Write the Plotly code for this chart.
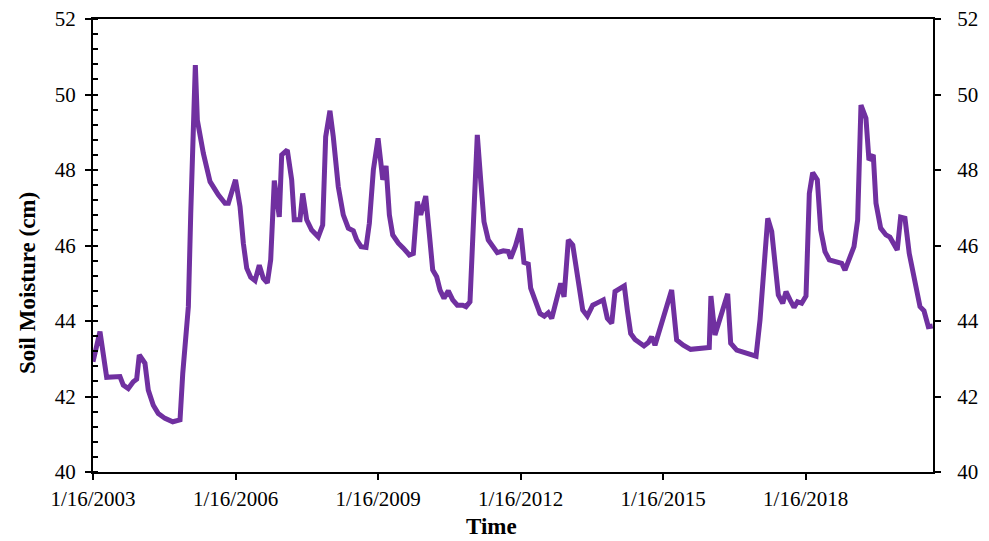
import datetime as dt
import plotly.graph_objects as go

# Monthly soil-moisture record, time as decimal years
decimal_year = [
    2003.041, 2003.188, 2003.329, 2003.609, 2003.679, 2003.784, 2003.889, 2003.961,
    2004.016, 2004.135, 2004.205, 2004.310, 2004.415, 2004.556, 2004.719, 2004.872,
    2004.929, 2005.047, 2005.097, 2005.194, 2005.236, 2005.363, 2005.504, 2005.678,
    2005.819, 2005.889, 2006.040, 2006.135, 2006.205, 2006.276, 2006.360, 2006.451,
    2006.541, 2006.625, 2006.710, 2006.781, 2006.857, 2006.962, 2007.013, 2007.131,
    2007.223, 2007.278, 2007.398, 2007.455, 2007.539, 2007.644, 2007.783, 2007.876,
    2007.939, 2008.029, 2008.099, 2008.204, 2008.309, 2008.415, 2008.520, 2008.591,
    2008.682, 2008.787, 2008.857, 2008.941, 2009.040, 2009.139, 2009.208, 2009.278,
    2009.349, 2009.467, 2009.572, 2009.698, 2009.783, 2009.867, 2009.938, 2010.044,
    2010.119, 2010.191, 2010.275, 2010.345, 2010.429, 2010.519, 2010.612, 2010.709,
    2010.822, 2010.892, 2010.976, 2011.130, 2011.201, 2011.271, 2011.361, 2011.454,
    2011.551, 2011.677, 2011.782, 2011.833, 2011.934, 2012.039, 2012.113, 2012.203,
    2012.254, 2012.344, 2012.449, 2012.540, 2012.624, 2012.696, 2012.801, 2012.885,
    2012.955, 2013.045, 2013.138, 2013.235, 2013.348, 2013.445, 2013.559, 2013.656,
    2013.782, 2013.866, 2013.959, 2014.028, 2014.133, 2014.224, 2014.287, 2014.358,
    2014.449, 2014.554, 2014.638, 2014.729, 2014.800, 2014.870, 2015.044, 2015.221,
    2015.326, 2015.466, 2015.621, 2015.817, 2016.013, 2016.048, 2016.133, 2016.400,
    2016.463, 2016.590, 2016.764, 2016.996, 2017.080, 2017.242, 2017.326, 2017.417,
    2017.465, 2017.558, 2017.627, 2017.711, 2017.796, 2017.869, 2017.957, 2018.048,
    2018.118, 2018.189, 2018.286, 2018.358, 2018.448, 2018.539, 2018.680, 2018.800,
    2018.869, 2018.974, 2019.059, 2019.136, 2019.206, 2019.311, 2019.374, 2019.465,
    2019.522, 2019.621, 2019.732, 2019.816, 2019.886, 2019.970, 2020.041, 2020.132,
    2020.222, 2020.321, 2020.378, 2020.448, 2020.532, 2020.623, 2020.715,
]

soil_moisture_cm = [
    42.92, 43.72, 42.51, 42.53, 42.30, 42.21, 42.39, 42.46,
    43.10, 42.88, 42.17, 41.77, 41.55, 41.42, 41.33, 41.38,
    42.61, 44.38, 46.85, 50.78, 49.32, 48.44, 47.69, 47.34,
    47.12, 47.12, 47.74, 47.03, 46.06, 45.40, 45.16, 45.07,
    45.48, 45.13, 45.01, 45.62, 47.72, 46.76, 48.40, 48.53,
    47.74, 46.68, 46.68, 47.38, 46.68, 46.41, 46.23, 46.54,
    48.88, 49.57, 48.88, 47.56, 46.81, 46.46, 46.39, 46.15,
    45.97, 45.95, 46.59, 48.00, 48.84, 47.74, 48.11, 46.81,
    46.28, 46.06, 45.93, 45.75, 45.79, 47.16, 46.81, 47.31,
    46.32, 45.35, 45.17, 44.82, 44.60, 44.80, 44.56, 44.42,
    44.42, 44.38, 44.51, 48.93, 47.74, 46.63, 46.15, 45.97,
    45.81, 45.86, 45.84, 45.66, 45.99, 46.45, 45.55, 45.51,
    44.87, 44.56, 44.20, 44.13, 44.22, 44.07, 44.56, 45.00,
    44.64, 46.15, 46.01, 45.26, 44.29, 44.13, 44.42, 44.48,
    44.56, 44.07, 43.94, 44.78, 44.87, 44.93, 44.29, 43.67,
    43.51, 43.41, 43.34, 43.43, 43.58, 43.36, 44.11, 44.82,
    43.50, 43.36, 43.25, 43.28, 43.30, 44.66, 43.63, 44.72,
    43.41, 43.23, 43.16, 43.07, 44.03, 46.72, 46.37, 45.17,
    44.69, 44.47, 44.78, 44.56, 44.36, 44.51, 44.47, 44.66,
    47.38, 47.93, 47.74, 46.41, 45.84, 45.62, 45.58, 45.53,
    45.35, 45.70, 45.97, 46.68, 49.72, 49.37, 48.26, 48.40,
    47.12, 46.46, 46.28, 46.22, 46.06, 45.88, 46.75, 46.72,
    45.79, 45.17, 44.87, 44.38, 44.27, 43.85, 43.87,
]

tick_dates = ["2003-01-16", "2006-01-16", "2009-01-16", "2012-01-16", "2015-01-16", "2018-01-16"]
tick_labels = ["1/16/2003", "1/16/2006", "1/16/2009", "1/16/2012", "1/16/2015", "1/16/2018"]
x_end_year = 2020.721


def to_date(t):
    year = int(t)
    start = dt.datetime(year, 1, 1)
    n_days = (dt.datetime(year + 1, 1, 1) - start).days
    return start + dt.timedelta(days=(t - year) * n_days)


dates = [to_date(t) for t in decimal_year]

FONT = "Liberation Serif, Times New Roman, serif"
PURPLE = "#7030A0"
TICK_SIZE = 21

fig = go.Figure()
fig.add_trace(go.Scatter(
    x=dates, y=soil_moisture_cm, mode="lines",
    line=dict(color=PURPLE, width=5),
    showlegend=False, hoverinfo="x+y",
))
# invisible copies so the right-hand and inner-tick axes are drawn
fig.add_trace(go.Scatter(x=dates, y=soil_moisture_cm, yaxis="y2", mode="lines",
                         line=dict(width=0), showlegend=False, hoverinfo="skip"))
fig.add_trace(go.Scatter(x=dates, y=soil_moisture_cm, yaxis="y3", mode="lines",
                         line=dict(width=0), showlegend=False, hoverinfo="skip"))

y_range = [40, 52]

fig.update_layout(
    width=989, height=541,
    margin=dict(l=93, r=56, t=19, b=69, autoexpand=False),
    paper_bgcolor="white", plot_bgcolor="white",
    font=dict(family=FONT, color="black", size=TICK_SIZE),
    xaxis=dict(
        type="date", automargin=False,
        range=["2003-01-16", to_date(x_end_year)],
        tickmode="array", tickvals=tick_dates, ticktext=tick_labels,
        ticks="outside", ticklen=6, tickwidth=1.5, tickcolor="black",
        showline=True, linecolor="black", linewidth=2, mirror=True,
        showgrid=False, zeroline=False,
        tickfont=dict(family=FONT, size=TICK_SIZE, color="black"),
        ticklabelstandoff=1,
    ),
    yaxis=dict(
        range=y_range, automargin=False, tickmode="linear", tick0=40, dtick=2,
        ticks="outside", ticklen=6, tickwidth=1.5, tickcolor="black",
        minor=dict(ticks="inside", dtick=0.4, ticklen=5, tickwidth=1.5, tickcolor="black"),
        showline=True, linecolor="black", linewidth=2,
        showgrid=False, zeroline=False,
        tickfont=dict(family=FONT, size=TICK_SIZE, color="black"),
        ticklabelstandoff=5,
    ),
    yaxis2=dict(
        range=y_range, automargin=False, overlaying="y", side="right",
        tickmode="linear", tick0=40, dtick=2,
        ticks="outside", ticklen=6, tickwidth=1.5, tickcolor="black",
        showline=True, linecolor="black", linewidth=2,
        showgrid=False, zeroline=False,
        tickfont=dict(family=FONT, size=TICK_SIZE, color="black"),
        ticklabelstandoff=12,
    ),
    yaxis3=dict(
        range=y_range, automargin=False, overlaying="y", side="left",
        tickmode="linear", tick0=40, dtick=2,
        ticks="inside", ticklen=4, tickwidth=1.5, tickcolor="black",
        showticklabels=False, showline=False,
        showgrid=False, zeroline=False,
    ),
    annotations=[
        dict(text="<b>Soil Moisture (cm)</b>", textangle=-90,
             xref="paper", yref="paper", x=-0.0786, y=0.417,
             xanchor="center", yanchor="middle", showarrow=False,
             font=dict(family=FONT, size=23, color="black")),
        dict(text="<b>Time</b>",
             xref="paper", yref="paper", x=0.474, y=-0.121,
             xanchor="center", yanchor="middle", showarrow=False,
             font=dict(family=FONT, size=23, color="black")),
    ],
)

fig.write_html("out.html")
